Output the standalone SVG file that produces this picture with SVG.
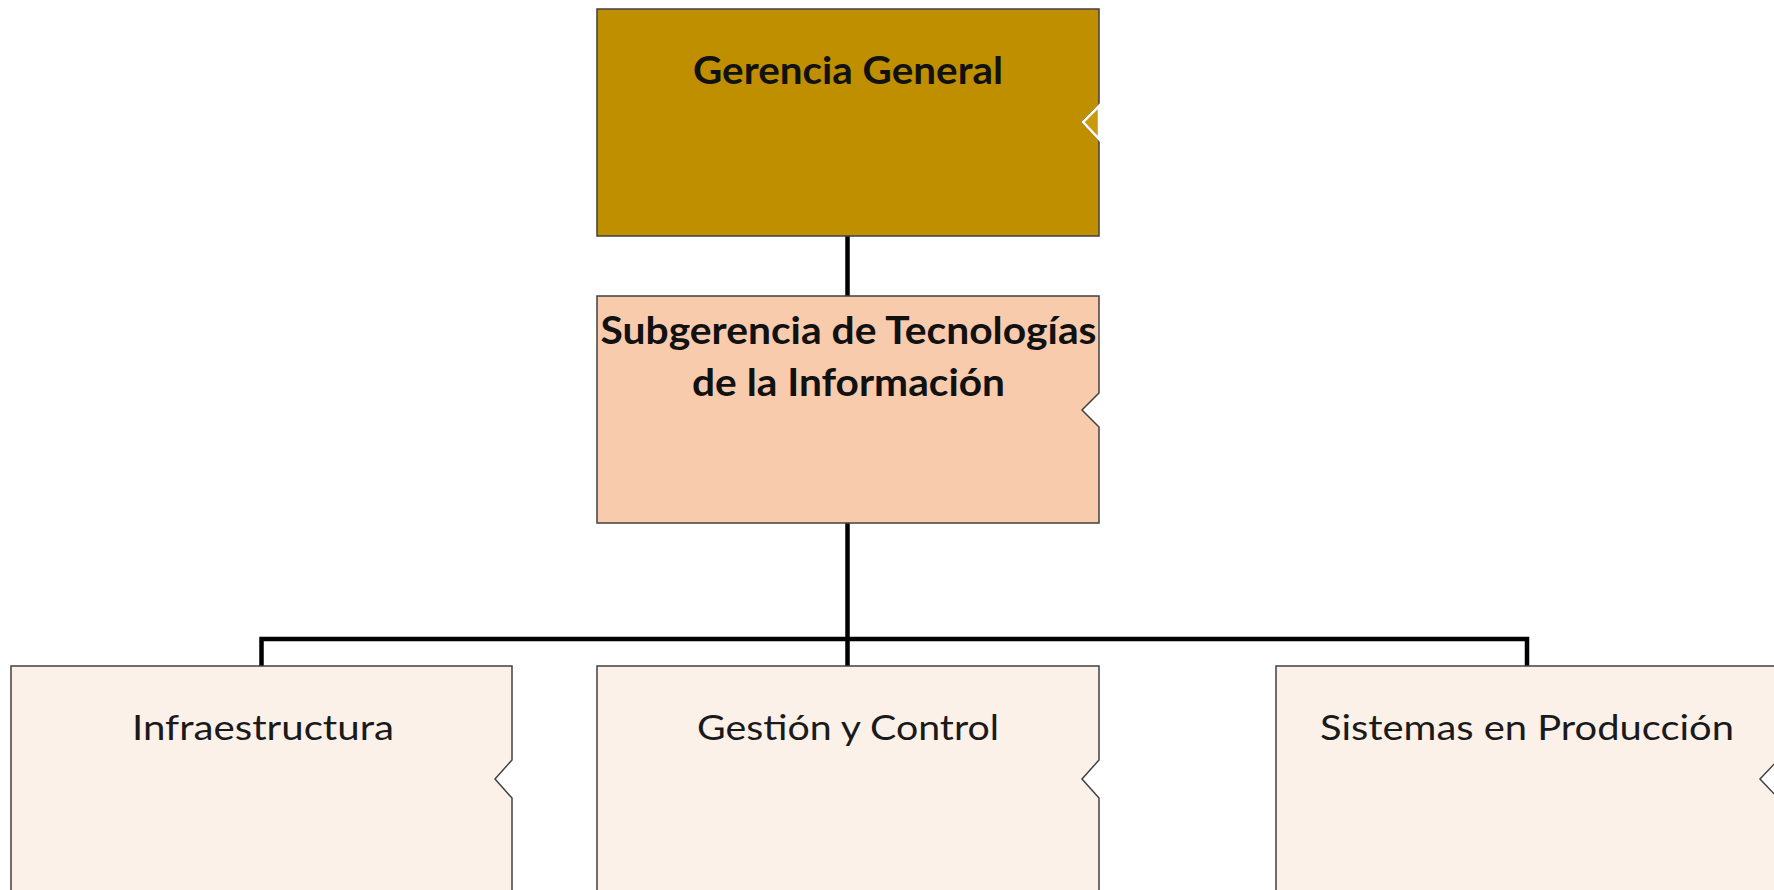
<svg xmlns="http://www.w3.org/2000/svg" width="1774" height="890" viewBox="0 0 1774 890">
  <style>
    .box { stroke: #404040; stroke-width: 1.5; }
    .gold { fill: #BF8F00; }
    .peach { fill: #F8CBAD; }
    .light { fill: #FCF1E9; }
    .title { font-family: Lato, "Liberation Sans", Arial, sans-serif; font-weight: bold; font-size: 38px; fill: #111111; text-anchor: middle; }
    .label { font-family: Lato, "Liberation Sans", Arial, sans-serif; font-size: 34px; fill: #1a1a1a; text-anchor: middle; }
    .conn { stroke: #000000; stroke-width: 4.5; fill: none; }
  </style>
  <rect x="0" y="0" width="1774" height="890" fill="#ffffff"/>

  <g id="connectors">
    <line class="conn" x1="847.5" y1="236" x2="847.5" y2="296"/>
    <line class="conn" x1="847.5" y1="523" x2="847.5" y2="666"/>
    <polyline class="conn" points="261.5,666 261.5,639 1527,639 1527,666"/>
  </g>

  <g id="gerencia-general">
    <path class="box gold" d="M597,9 H1099 V105 L1082,122 L1099,140 V236 H597 Z"/>
    <polygon points="1099,106 1083,122 1099,139" fill="#C99A0E" stroke="#ffffff" stroke-width="2.5"/>
    <text class="title" x="848" y="83.5" textLength="310" lengthAdjust="spacingAndGlyphs">Gerencia General</text>
  </g>

  <g id="subgerencia-ti">
    <path class="box peach" d="M597,296 H1099 V393 L1082,410 L1099,427 V523 H597 Z"/>
    <text class="title" x="848.5" y="344" textLength="496" lengthAdjust="spacingAndGlyphs">Subgerencia de Tecnologías</text>
    <text class="title" x="848.5" y="396" textLength="313" lengthAdjust="spacingAndGlyphs">de la Información</text>
  </g>

  <g id="infraestructura">
    <path class="box light" d="M11,666 H512 V760 L495,779 L512,798 V900 H11 Z"/>
    <text class="label" x="263" y="740" textLength="262" lengthAdjust="spacingAndGlyphs">Infraestructura</text>
  </g>

  <g id="gestion-control">
    <path class="box light" d="M597,666 H1099 V760 L1082,779 L1099,798 V900 H597 Z"/>
    <text class="label" x="848" y="740" textLength="302" lengthAdjust="spacingAndGlyphs">Gestión y Control</text>
  </g>

  <g id="sistemas-produccion">
    <path class="box light" d="M1276,666 H1778 V760 L1760,779 L1778,798 V900 H1276 Z"/>
    <text class="label" x="1527" y="740" textLength="414" lengthAdjust="spacingAndGlyphs">Sistemas en Producción</text>
  </g>
</svg>
